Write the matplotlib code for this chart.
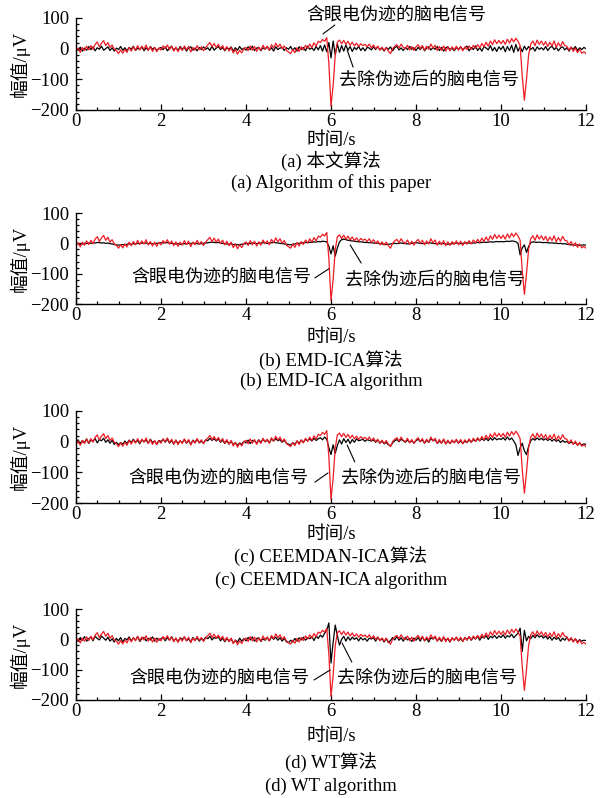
import numpy as np
import matplotlib
matplotlib.use('Agg')
import matplotlib.pyplot as plt
from matplotlib.ticker import MultipleLocator

plt.rcParams['font.family'] = ['Liberation Serif', 'Noto Sans CJK SC']
plt.rcParams['axes.unicode_minus'] = True

# 时间轴 (0~12 s, 0.05 s 间隔)
t = np.linspace(0, 12, 241)

# 含眼电伪迹的脑电信号 (各子图相同)
eeg_raw = [
    -8, 2, -12, 4, -6, 8, -4, 10, -2, 14, 22, 6, 18, 26, 10, 20, 4, 12, -2, -6,
    -16, -4, -15, -2, -12, 4, -8, 6, -5, 10, -4, 8, -2, 12, -6, 6, -9, 4, -10, 3,
    -5, 9, 0, 12, -3, 8, -8, 5, -10, 4, -6, 9, -4, 7, -11, 4, -5, 10, -3, 6,
    -7, 4, 12, 20, 6, 17, 4, 14, 0, 10, -5, 7, -8, 4, -14, -2, -18, -5, -14, 0,
    4, -7, 9, -5, 7, -9, 5, -6, 11, -1, 8, -5, 13, 2, 18, 5, 15, 0, 9, -6,
    -11, -16, -3, -13, 3, -9, 6, -4, 11, 1, 15, 4, 19, 8, 24, 20, 30, 24, 36, -50,
    -188, -120, -20, 22, 28, 16, 27, 14, 24, 11, 21, 9, 18, 7, 16, 10, 14, 6, 15, 3,
    12, 0, 8, -5, 5, -6, 4, -8, -16, 0, 8, 13, 2, 15, 4, 0, 11, -4, 7, -6,
    6, 13, 0, 10, -5, 8, -2, 15, 2, 11, -6, 7, -5, 9, -8, 5, -7, 6, -4, 8,
    -5, 7, -7, 6, -3, 9, -2, 11, 1, 13, 3, 17, 6, 21, 8, 25, 13, 29, 16, 27,
    16, 27, 14, 31, 18, 33, 22, 34, 24, 10, -90, -168, -100, -20, 15, 25, 10, 28, 14, 25,
    11, 23, 7, 21, 9, 25, 5, 19, 7, 23, 10, 8, -5, 6, -9, 2, -13, -2, -15, -10,
    -16,
]

# 去除伪迹后的脑电信号
clean_a = [
    3, -6, 5, -8, 2, -5, 7, -3, 6, -7, 3, -2, 8, -5, 0, 6, -6, 3, -8, 2,
    -3, 7, -5, 3, -7, 4, -2, 8, -6, 2, -3, 6, -7, 3, -5, 7, -2, 4, -6, 0,
    4, -3, 6, -7, 2, 8, -5, 3, -6, 7, -2, 4, -8, 3, 6, -5, 2, -7, 4, -3,
    6, -2, 3, -6, 8, -5, 2, 7, -3, 4, -7, 3, -2, 6, -8, 3, -5, 7, -3, 2,
    -5, 6, -3, 8, -6, 2, 4, -7, 3, -2, 7, -5, 3, -8, 6, -3, 2, 4, -6, 3,
    -2, 7, -5, 3, -8, 6, -3, 4, -7, 8, -2, 3, -6, 7, -4, 10, -8, 12, -10, 20,
    -30, 25, -20, 15, -12, 10, -8, 12, -5, 7, -9, 4, -3, 8, -6, 3, -7, 4, 2, -4,
    6, -3, 7, -4, 2, -8, 4, -2, 6, -7, 3, 8, -4, 2, -6, 4, -3, 7, -2, 3,
    -6, 4, -3, 8, -7, 2, 6, -4, 3, -2, 7, -6, 4, -8, 3, 6, -3, 2, -7, 4,
    -2, 6, -4, 3, 8, -7, 4, -3, 9, -6, 3, -8, 7, 2, -4, 10, -7, 4, -9, 6,
    -3, 8, -10, 7, -6, 11, -12, 14, -8, 6, -10, 8, -4, 7, -3, 4, -8, 6, -2, 3,
    -4, 7, -6, 3, 8, -3, 4, -7, 2, 6, -4, 3, -8, 4, -2, 7, -6, 3, -3, 4,
    0,
]
clean_b = [
    -2, -1, -3, -2, 0, -1, 1, 0, 2, 1, 3, 2, 1, 2, 0, 1, -1, -2, -4, -5,
    -6, -5, -4, -5, -3, -2, -3, -1, -2, 0, -1, 1, 0, 1, -1, 0, -2, -1, 0, 1,
    2, 1, 3, 2, 1, 0, -1, -2, -1, -3, -2, -1, -2, 0, -1, 1, 0, -1, -2, -1,
    0, 1, 2, 3, 4, 3, 2, 3, 1, 0, -1, -2, -3, -2, -4, -3, -5, -4, -3, -2,
    -1, 0, -1, 1, 0, -1, 0, 1, 2, 1, 0, 1, 2, 3, 2, 1, 0, -1, -2, -3,
    -4, -5, -3, -2, -1, 0, 1, 2, 3, 2, 4, 3, 5, 4, 6, 5, 7, 6, 5, -10,
    -35, -8, -42, -15, 5, 12, 14, 12, 10, 9, 8, 7, 6, 5, 5, 4, 3, 3, 2, 2,
    1, 0, 1, -1, -2, -3, -4, -3, -2, -1, 0, -1, 0, 1, 0, -1, -2, -1, 0, 1,
    2, 1, 0, -1, 0, 1, 2, 1, 0, -1, -2, -1, 0, -1, -2, -3, -2, -1, 0, 1,
    0, -1, 0, 1, 2, 1, 0, 1, 2, 3, 2, 3, 4, 3, 4, 5, 4, 5, 6, 5,
    6, 5, 6, 7, 6, 8, 7, 5, 0, -38, -15, -5, -30, -10, 2, 5, 4, 3, 4, 3,
    2, 3, 2, 1, 2, 0, 1, -1, 0, -2, -1, -3, -4, -5, -4, -6, -5, -7, -6, -5,
    -6,
]
clean_c = [
    -5, 6, -8, 4, -3, 9, -6, 5, 2, 10, -4, 7, 3, 11, -2, 6, -5, 4, -9, -2,
    -10, -3, -8, 2, -6, 5, -3, 8, -2, 4, -7, 6, 0, 5, -5, 8, -3, 2, -8, 4,
    0, 8, -2, 9, -5, 4, -8, 5, -6, 2, -3, 7, -5, 4, -9, 5, -2, 8, -4, 2,
    -5, 6, 3, 11, 4, 10, 2, 9, -2, 5, -6, 3, -8, 2, -10, -3, -12, -4, -9, 1,
    -4, 5, -6, 4, 2, -5, 6, -2, 8, 0, 5, -4, 9, 2, 10, 3, 7, -2, 5, -5,
    -8, -12, -3, -9, 2, -5, 5, -2, 8, 3, 9, 2, 11, 4, 9, 13, 6, 15, 8, -20,
    -42, -10, -38, -12, 6, -8, 10, -3, 8, -6, 7, -2, 9, 3, 5, 8, 1, 7, 4, 2,
    6, -2, 5, -5, 2, -7, -3, -10, -14, -4, 3, 7, 0, 8, 3, -2, 6, -3, 4, -5,
    3, 8, 0, 6, -5, 4, -2, 10, 3, 7, -6, 3, -5, 6, -7, 2, -6, 3, -3, 5,
    -5, 3, -6, 2, -3, 6, -2, 7, 1, 9, 3, 10, 4, 11, 3, 12, 5, 13, 6, 10,
    7, 13, 5, 15, 6, 12, 2, -10, -45, -20, -5, -30, -42, -15, 3, 10, 5, 12, 6, 11,
    5, 10, 4, 9, 2, 8, 1, 6, -3, 4, -2, 1, -6, -1, -7, -3, -10, -5, -11, -7,
    -9,
]
clean_d = [
    4, -7, 6, -3, 9, -6, 2, 8, -5, 10, 3, -2, 11, 4, -3, 7, -6, 2, -9, 3,
    -5, 6, -9, 3, -2, 8, -6, 5, -3, 9, -7, 2, 6, -5, 3, -2, 8, -6, 4, -3,
    2, 7, -5, 6, -3, 9, -6, 3, -8, 5, 0, 7, -5, 2, -9, 6, -3, 5, -6, 3,
    -3, 7, 2, 10, -2, 6, 3, 9, -5, 4, -8, 3, -6, 2, -12, -3, -9, 4, -6, 2,
    -5, 6, -2, 8, -6, 3, 5, -7, 2, -3, 6, -5, 9, 0, 7, -3, 5, -6, 3, -8,
    -11, -3, -9, 3, -6, 5, -2, 7, -3, 6, 2, 9, -4, 11, 3, 14, 7, 20, 30, 54,
    -78, -10, 47, 12, -19, 0, 10, -6, 8, -3, 7, 0, 5, -5, 6, -2, 3, -6, 4, 1,
    5, -6, 7, -3, 2, -9, 3, -11, -4, 6, -2, 9, -3, 5, -6, 7, -2, 3, -7, 4,
    -3, 6, -6, 9, -5, 3, -9, 5, 1, 7, -5, 3, -7, 6, -3, 2, -9, 4, -2, 6,
    -5, 3, -7, 6, -2, 9, -3, 7, 1, 11, -3, 9, 4, 12, 0, 10, 5, 13, 3, 11,
    6, 15, 4, 12, 8, 17, 5, 13, 20, 37, -40, 30, -5, 10, 2, 13, 5, 15, 7, 12,
    4, 11, 1, 9, -3, 7, 0, 6, -6, 4, -3, 7, -5, 3, -7, 2, -9, -1, -6, -3,
    -4,
]

cleans = [clean_a, clean_b, clean_c, clean_d]
captions_cn = ['(a) 本文算法', '(b) EMD-ICA算法', '(c) CEEMDAN-ICA算法', '(d) WT算法']
captions_en = ['(a) Algorithm of this paper', '(b) EMD-ICA algorithm',
               '(c) CEEMDAN-ICA algorithm', '(d) WT algorithm']
label_raw = '含眼电伪迹的脑电信号'
label_clean = '去除伪迹后的脑电信号'

# 注释位置 (数据坐标): 文字中心, 引线两端
ann_raw = [((7.53, 110), (5.81, 48), (6.09, 77)),
           ((3.41, -111), (5.62, -114), (5.95, -84)),
           ((3.34, -118), (5.62, -132), (5.93, -102)),
           ((3.38, -127), (5.60, -134), (5.98, -101))]
ann_clean = [((8.31, -102), (6.38, -4), (6.52, -60)),
             ((8.45, -121), (6.45, -5), (6.71, -65)),
             ((8.35, -118), (6.38, -11), (6.56, -66)),
             ((8.26, -127), (6.26, -12), (6.49, -75))]

# 画布 (像素单位布局)
W, H = 604, 798
fig = plt.figure(figsize=(W / 100, H / 100), dpi=100)
ax_top = [18, 213, 411, 609]
ax_bot = [110, 304, 503, 700]
lbl_y = [141, 338, 535, 737]
cn_y = [161, 360, 556, 762]
en_y = [183, 381, 580, 786]
x0, x1 = 76, 586
xc = (x0 + x1) / 2 / W

cjk = ['Liberation Serif', 'Noto Sans CJK SC']

for i in range(4):
    ax = fig.add_axes([x0 / W, 1 - ax_bot[i] / H, (x1 - x0) / W,
                       (ax_bot[i] - ax_top[i]) / H])
    ax.plot(t, cleans[i], color='black', lw=0.9)
    ax.plot(t, eeg_raw, color='#ee1c24', lw=0.9)

    ax.set_xlim(0, 12)
    ax.set_ylim(-200, 100)
    ax.spines['top'].set_visible(False)
    ax.spines['right'].set_visible(False)
    ax.spines['left'].set_linewidth(1.0)
    ax.spines['bottom'].set_linewidth(1.0)
    ax.xaxis.set_major_locator(MultipleLocator(2))
    ax.xaxis.set_minor_locator(MultipleLocator(0.5))
    ax.yaxis.set_major_locator(MultipleLocator(100))
    ax.yaxis.set_minor_locator(MultipleLocator(20))
    ax.tick_params(which='both', direction='in', labelsize=13.5, width=0.9)
    ax.tick_params(which='major', length=4)
    ax.tick_params(which='minor', length=2.2)
    ax.tick_params(axis='x', pad=2.5)
    ax.tick_params(axis='y', pad=5)

    ax.set_ylabel('幅值/μV', fontsize=13.5, family=cjk)
    ax.yaxis.set_label_coords(-0.09, 0.5)

    # 注释
    (tx, ty), (p0x, p0y), (p1x, p1y) = ann_raw[i]
    ax.text(tx, ty, label_raw, fontsize=13, family=cjk, ha='center', va='center',
            clip_on=False)
    ax.annotate('', xy=(p0x, p0y), xytext=(p1x, p1y), annotation_clip=False,
                arrowprops=dict(arrowstyle='-', color='black', lw=0.8,
                                shrinkA=0, shrinkB=0))
    (tx, ty), (p0x, p0y), (p1x, p1y) = ann_clean[i]
    ax.text(tx, ty, label_clean, fontsize=13, family=cjk, ha='center', va='center',
            clip_on=False)
    ax.annotate('', xy=(p0x, p0y), xytext=(p1x, p1y), annotation_clip=False,
                arrowprops=dict(arrowstyle='-', color='black', lw=0.8,
                                shrinkA=0, shrinkB=0))

    fig.text(xc, 1 - lbl_y[i] / H, '时间/s', fontsize=13.4, family=cjk,
             ha='center', va='center')
    fig.text(xc, 1 - cn_y[i] / H, captions_cn[i], fontsize=13.4, family=cjk,
             ha='center', va='center')
    fig.text(xc, 1 - en_y[i] / H, captions_en[i], fontsize=13.4, family=cjk,
             ha='center', va='center')

fig.savefig('out.png', dpi=100)
